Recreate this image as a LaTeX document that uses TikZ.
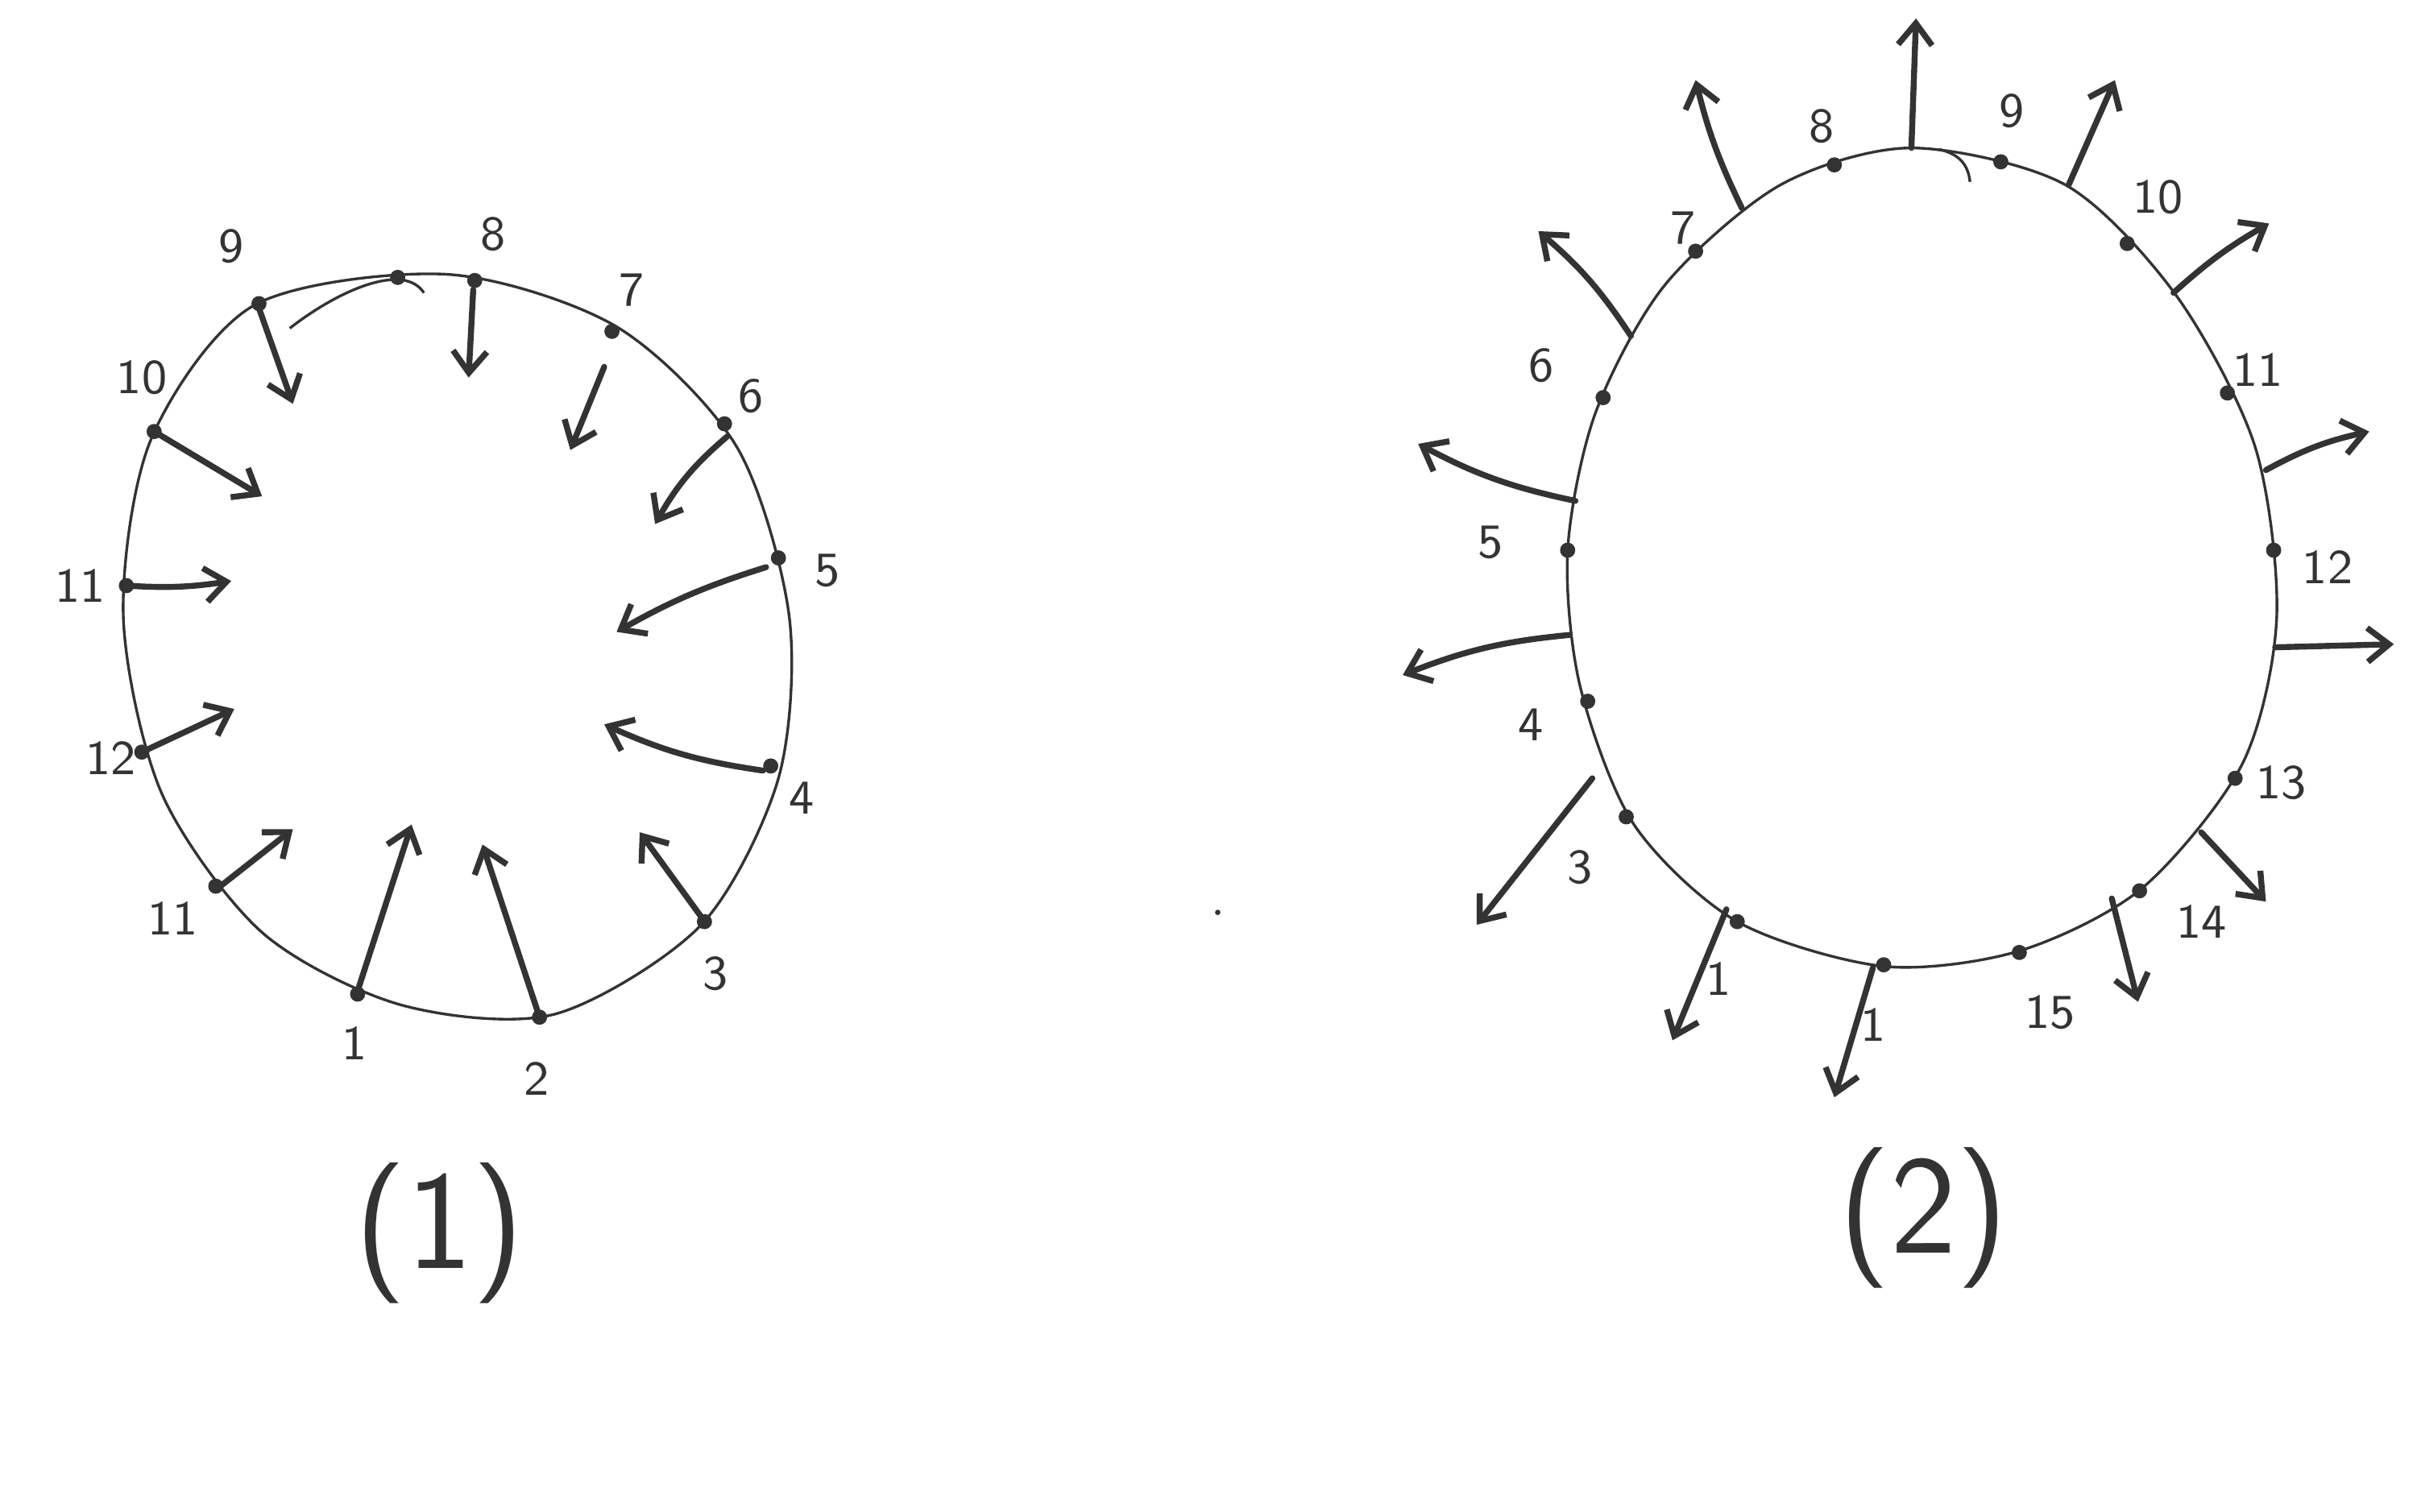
\documentclass[tikz,border=0pt]{standalone}
\usetikzlibrary{arrows.meta}
\definecolor{ink}{HTML}{333333}
\tikzset{
  rim/.style={line width=0.5pt, draw=ink},
  spoke/.style={line width=1.1pt, draw=ink, line cap=round, -{Straight Barb[length=1.4mm, width=2.2mm]}},
  num/.style={font=\sffamily\small, text=ink, inner sep=0pt},
  caption/.style={font=\sffamily\fontsize{26}{30}\selectfont, text=ink, inner sep=0pt}
}
\begin{document}
\begin{tikzpicture}[x=0.1mm, y=-0.1mm]
\useasboundingbox (0,0) rectangle (1568,981);
% (1) rim with inward arrows
\draw[rim] plot[smooth cycle] coordinates {(290,178) (400,212) (478,290) (512,400) (505,505) (455,600) (360,658) (260,652) (170,605) (105,515) (80,400) (98,285) (165,198)};
\draw[rim] (188,213) .. controls (220,188) and (262,170) .. (275,190);
\foreach \p in {(258,180),(308,182),(397,215),(470,275),(505,362),(500,497),(457,598),(350,660),(232,645),(140,575),(92,488),(82,380),(100,280),(168,197)}
  \fill[ink] \p circle (1.4pt);
\foreach \n/\sx/\sy/\ex/\ey/\b in {1/232/643/267/535/0, 2/350/660/313/548/0, 3/455/595/415/540/0, 4/495/500/392/470/8, 5/497/368/400/410/-6, 6/472/283/425/340/-10, 7/392/238/370/292/0, 8/307/188/304/245/0, 9/168/200/190/262/0, 10/100/280/170/322/0, 11/82/380/150/377/-6, 12/92/488/152/460/0, 13/143/575/190/538/0} {
  \coordinate (la\n) at (\sx,\sy);
  \coordinate (lb\n) at (\ex,\ey);
  \draw[spoke] (la\n) to[bend left=\b] (lb\n);
}
\foreach \n/\t/\x/\y in {1/1/230/677, 2/2/348/700, 3/3/464/632, 4/4/520/518, 5/5/537/370, 6/6/487/257, 7/7/410/188, 8/8/320/152, 9/9/150/160, 10/10/92/245, 11/11/52/380, 12/12/72/492, 13/11/112/596}
  \node[num] (ln\n) at (\x,\y) {\t};
\node[caption] (cap1) at (285,800) {(1)};
% (2) rim with outward arrows
\draw[rim] plot[smooth cycle] coordinates {(1240,96) (1340,120) (1412,192) (1463,290) (1477,400) (1455,495) (1390,576) (1310,617) (1222,627) (1127,598) (1060,535) (1025,445) (1017,357) (1035,268) (1080,185) (1155,120)};
\draw[rim] (1258,97) .. controls (1272,100) and (1277,108) .. (1278,118);
\foreach \p in {(1298,105),(1380,158),(1445,255),(1475,357),(1450,505),(1388,578),(1310,618),(1222,626),(1127,598),(1055,530),(1030,455),(1017,357),(1040,258),(1100,163),(1190,107)}
  \fill[ink] \p circle (1.4pt);
\foreach \n/\sx/\sy/\ex/\ey/\b in {1/1240/96/1243/12/0, 2/1130/135/1100/52/6, 3/1058/218/998/150/-8, 4/1022/325/920/288/8, 5/1018/412/910/438/-8, 6/1033/505/958/600/0, 7/1120/590/1085/675/0, 8/1215/628/1190/712/0, 9/1370/583/1387/650/0, 10/1428/540/1470/585/0, 11/1476/420/1553/418/0, 12/1470/305/1537/280/8, 13/1410/190/1472/145/6, 14/1342/120/1372/52/0} {
  \coordinate (ra\n) at (\sx,\sy);
  \coordinate (rb\n) at (\ex,\ey);
  \draw[spoke] (ra\n) to[bend left=\b] (rb\n);
}
\foreach \n/\t/\x/\y in {1/1/1215/665, 2/1/1115/635, 3/3/1025/563, 4/4/993/470, 5/5/967/352, 6/6/1000/237, 7/7/1092/148, 8/8/1182/82, 9/9/1305/72, 10/10/1400/128, 11/11/1465/240, 12/12/1510/368, 13/13/1480/508, 14/14/1428/598, 15/15/1330/657}
  \node[num] (rn\n) at (\x,\y) {\t};
\node[caption] (cap2) at (1248,790) {(2)};
\fill[ink] (790,592) circle (0.5pt);
\end{tikzpicture}
\end{document}
